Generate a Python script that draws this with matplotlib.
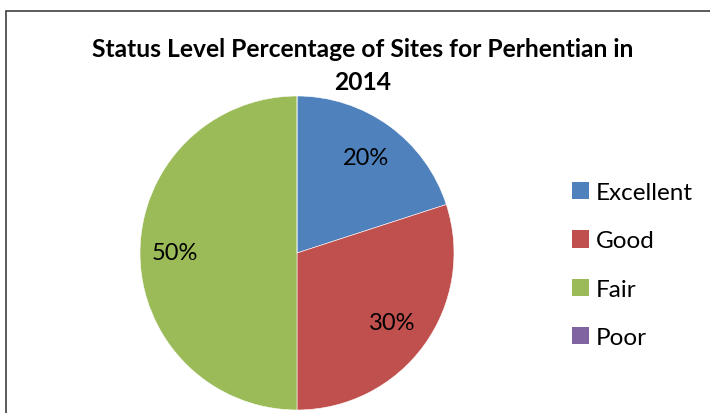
import matplotlib.pyplot as plt
from matplotlib.patches import Rectangle, Patch

plt.rcParams['font.family'] = ['Lato', 'DejaVu Sans']

title = 'Status Level Percentage of Sites for Perhentian in\n2014'
categories = ['Excellent', 'Good', 'Fair', 'Poor']
percent = [20, 30, 50, 0]
colors = ['#4F81BD', '#C0504D', '#9BBB59', '#8064A2']

W, H = 710, 414
fig = plt.figure(figsize=(W / 100, H / 100), dpi=100)

# chart area border (cut off on the right and bottom in the original)
fig.patches.append(Rectangle((6 / W, -0.1), 1.2, (H - 11.5) / H + 0.1,
                             transform=fig.transFigure, fill=False,
                             edgecolor='#404040', linewidth=1.2))

ax = fig.add_axes([140 / W, 3 / H, 314 / W, 314 / H])
wedges, texts, autotexts = ax.pie(
    percent, colors=colors, startangle=90, counterclock=False,
    autopct=lambda p: '%d%%' % round(p) if p > 0 else '',
    pctdistance=0.75, radius=1,
    wedgeprops=dict(edgecolor='white', linewidth=0.4),
    textprops=dict(fontsize=17, color='black'))
# the large slice label sits a bit further out
x, y = autotexts[2].get_position()
autotexts[2].set_position((x * 1.04, y))
ax.set_xlim(-1, 1)
ax.set_ylim(-1, 1)
ax.set_aspect('equal')

fig.text(363 / W, 1 - 38 / H, title, ha='center', va='top',
         fontsize=17.7, fontweight='bold', linespacing=1.55)

handles = [Patch(facecolor=c, edgecolor='none') for c in colors]
fig.legend(handles, categories, loc='center left',
           bbox_to_anchor=(550 / W, 1 - 266 / H), frameon=False,
           fontsize=17.5, handlelength=0.72, handleheight=0.72,
           handletextpad=0.25, labelspacing=1.12)

fig.savefig('out.png', dpi=100)
